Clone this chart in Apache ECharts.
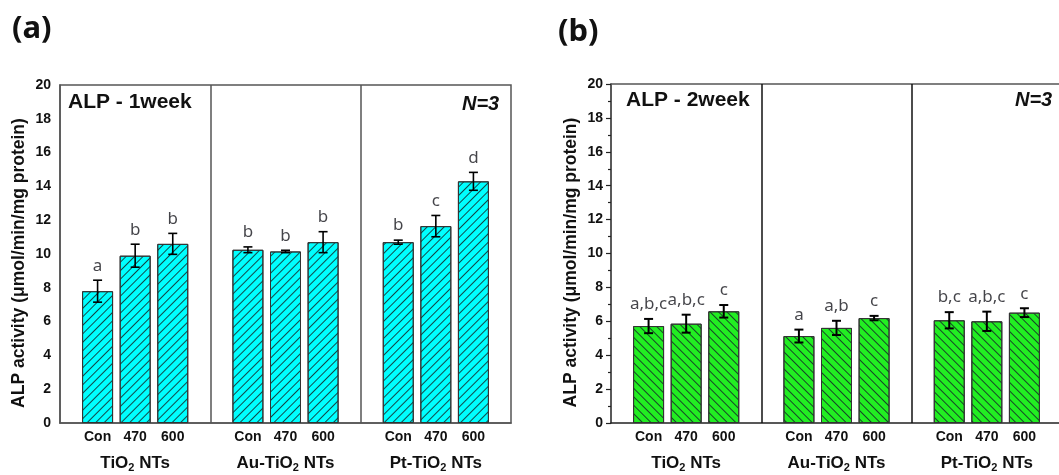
<!DOCTYPE html>
<html>
<head>
<meta charset="utf-8">
<script src="https://cdn.jsdelivr.net/npm/echarts@6/dist/echarts.min.js"></script>
<style>
html,body{margin:0;padding:0;background:#fff;}
#chart{width:1059px;height:475px;}
</style>
</head>
<body>
<div id="chart"></div>
<script>
// ---- data ----
const categories = ['Con', '470', '600'];
const groups = ['TiO2 NTs', 'Au-TiO2 NTs', 'Pt-TiO2 NTs'];
const week1Mean = [7.8, 9.9, 10.6, 10.25, 10.15, 10.7, 10.7, 11.65, 14.3];
const week1Err = [0.65, 0.68, 0.62, 0.17, 0.07, 0.62, 0.12, 0.63, 0.53];
const week1Letters = ['a', 'b', 'b', 'b', 'b', 'b', 'b', 'c', 'd'];
const week2Mean = [5.72, 5.86, 6.59, 5.13, 5.61, 6.19, 6.06, 6.0, 6.51];
const week2Err = [0.42, 0.53, 0.37, 0.38, 0.42, 0.13, 0.48, 0.57, 0.26];
const week2Letters = ['a,b,c', 'a,b,c', 'c', 'a', 'a,b', 'c', 'b,c', 'a,b,c', 'c'];
const yTicks = [0, 2, 4, 6, 8, 10, 12, 14, 16, 18, 20];
const yTitle = 'ALP activity (\u03bcmol/min/mg protein)';

// ---- helpers ----
const slot = [];           // x position of each bar on the x value axis
groups.forEach((g, gi) => categories.forEach((c, ci) => slot.push(4 * gi + ci + 1)));
function catLabel(v) {
  const idx = slot.indexOf(v);
  return idx >= 0 ? categories[idx % 3] : '';
}
function groupLabel(v) {
  const gi = [2, 6, 10].indexOf(v);
  if (gi < 0) return '';
  const parts = groups[gi].split('2');
  return '{g|' + parts[0] + '}{s|2}{g|' + parts[1] + '}';
}
const FONT = 'Liberation Sans';

function yAxis(gridIndex, ticks) {
  return {
    type: 'value', gridIndex: gridIndex, min: yTicks[0], max: yTicks[yTicks.length - 1], interval: 2,
    axisLine: { show: true, lineStyle: { color: ticks ? '#222' : '#555', width: 1.5 } },
    axisTick: { show: ticks, length: 5, lineStyle: { color: '#222', width: 1.2 } },
    minorTick: { show: ticks, splitNumber: 2, length: 3, lineStyle: { color: '#222', width: 1.2 } },
    splitLine: { show: false },
    axisLabel: { fontFamily: FONT, fontWeight: 'bold', fontSize: 14, color: '#111', margin: ticks ? 8 : 9 },
    name: yTitle, nameLocation: 'middle', nameGap: ticks ? 31 : 32,
    nameTextStyle: { fontFamily: FONT, fontWeight: 'bold', fontSize: 17.5, color: '#111', padding: [0, 18, 0, 0] }
  };
}
function xAxes(gridIndex, lineColor, withTop) {
  const list = [{
    type: 'value', gridIndex: gridIndex, min: 0, max: 12, interval: 1,
    axisLine: { show: true, onZero: false, lineStyle: { color: lineColor, width: 1.5 } },
    axisTick: { show: false }, splitLine: { show: false },
    axisLabel: { formatter: catLabel, fontFamily: FONT, fontWeight: 'bold', fontSize: 14, color: '#111', margin: 7,
                 showMinLabel: true, showMaxLabel: true }
  }, {
    type: 'value', gridIndex: gridIndex, min: 0, max: 12, interval: 2, position: 'bottom',
    axisLine: { show: false }, axisTick: { show: false }, splitLine: { show: false },
    axisLabel: {
      formatter: groupLabel, margin: 30, color: '#111',
      rich: {
        g: { fontFamily: FONT, fontWeight: 'bold', fontSize: 17, color: '#111' },
        s: { fontFamily: FONT, fontWeight: 'bold', fontSize: 11, color: '#111', padding: [9, 0, 0, 0] }
      }
    }
  }];
  if (withTop) {
    list.push({
      type: 'value', gridIndex: gridIndex, min: 0, max: 12, position: 'top',
      axisLine: { show: true, onZero: false, lineStyle: { color: '#555', width: 1.5 } },
      axisTick: { show: false }, axisLabel: { show: false }, splitLine: { show: false }
    });
  }
  return list;
}
function panelSeries(xi, yi, mean, err, letters, fill, rot, sepColor, ebWidth) {
  const barData = mean.map((m, i) => [slot[i], m]);
  return [{
    type: 'bar', xAxisIndex: xi, yAxisIndex: yi, barWidth: 31, data: barData,
    itemStyle: {
      color: fill, borderColor: '#333', borderWidth: 1,
      decal: { symbol: 'rect', symbolSize: 1, dashArrayX: [1, 0], dashArrayY: [1, 4.5], rotation: rot, color: 'rgba(20,40,40,0.85)' }
    },
    markLine: {
      silent: true, symbol: 'none', label: { show: false },
      lineStyle: { color: sepColor, width: 1.5, type: 'solid' },
      data: [{ xAxis: 4 }, { xAxis: 8 }]
    },
    z: 2
  }, {
    type: 'custom', xAxisIndex: xi, yAxisIndex: yi,
    data: mean.map((m, i) => [slot[i], m, err[i]]),
    renderItem: function (params, api) {
      const x = api.value(0), m = api.value(1), e = api.value(2);
      const top = api.coord([x, m + e]);
      const bot = api.coord([x, m - e]);
      const hw = 4.5;
      const st = { stroke: '#000', lineWidth: ebWidth };
      return { type: 'group', children: [
        { type: 'line', shape: { x1: top[0], y1: top[1], x2: bot[0], y2: bot[1] }, style: st },
        { type: 'line', shape: { x1: top[0] - hw, y1: top[1], x2: top[0] + hw, y2: top[1] }, style: st },
        { type: 'line', shape: { x1: bot[0] - hw, y1: bot[1], x2: bot[0] + hw, y2: bot[1] }, style: st }
      ] };
    },
    z: 5
  }, {
    type: 'scatter', xAxisIndex: xi, yAxisIndex: yi, symbolSize: 0, silent: true,
    data: mean.map((m, i) => [slot[i], m + err[i]]),
    label: {
      show: true, position: 'top', distance: 6,
      formatter: p => letters[p.dataIndex],
      fontFamily: 'Noto Sans', fontSize: 17, color: '#15151c'
    },
    z: 6
  }];
}

const chart = echarts.init(document.getElementById('chart'), null, { renderer: 'canvas' });
chart.setOption({
  backgroundColor: '#fff',
  animation: false,
  title: [
    { text: '(a)', left: 12, top: 14, padding: 0, textStyle: { fontFamily: 'Noto Sans', fontWeight: 'bold', fontSize: 31, color: '#111' } },
    { text: '(b)', left: 558, top: 17, padding: 0, textStyle: { fontFamily: 'Noto Sans', fontWeight: 'bold', fontSize: 31, color: '#111' } },
    { text: 'ALP - 1week', left: 68, top: 92, padding: 0, textStyle: { fontFamily: FONT, fontWeight: 'bold', fontSize: 21, color: '#111' } },
    { text: 'N=3', left: 462, top: 94, padding: 0, textStyle: { fontFamily: FONT, fontWeight: 'bold', fontStyle: 'italic', fontSize: 20, color: '#111' } },
    { text: 'ALP - 2week', left: 626, top: 90, padding: 0, textStyle: { fontFamily: FONT, fontWeight: 'bold', fontSize: 21, color: '#111' } },
    { text: 'N=3', left: 1015, top: 90, padding: 0, textStyle: { fontFamily: FONT, fontWeight: 'bold', fontStyle: 'italic', fontSize: 20, color: '#111' } }
  ],
  grid: [
    { left: 60, top: 85, width: 451, height: 338, show: true, borderColor: '#555', borderWidth: 1.5, backgroundColor: 'transparent', outerBoundsMode: 'none' },
    { left: 611, top: 84, width: 451, height: 339, show: false, outerBoundsMode: 'none' }
  ],
  xAxis: [].concat(xAxes(0, '#555', false), xAxes(1, '#222', true)),
  yAxis: [yAxis(0, false), yAxis(1, true)],
  series: [].concat(
    panelSeries(0, 0, week1Mean, week1Err, week1Letters, '#00ffff', -Math.PI / 4, '#555', 1.6),
    panelSeries(2, 1, week2Mean, week2Err, week2Letters, '#22ee22', Math.PI / 4, '#111', 2)
  )
});
</script>
</body>
</html>
